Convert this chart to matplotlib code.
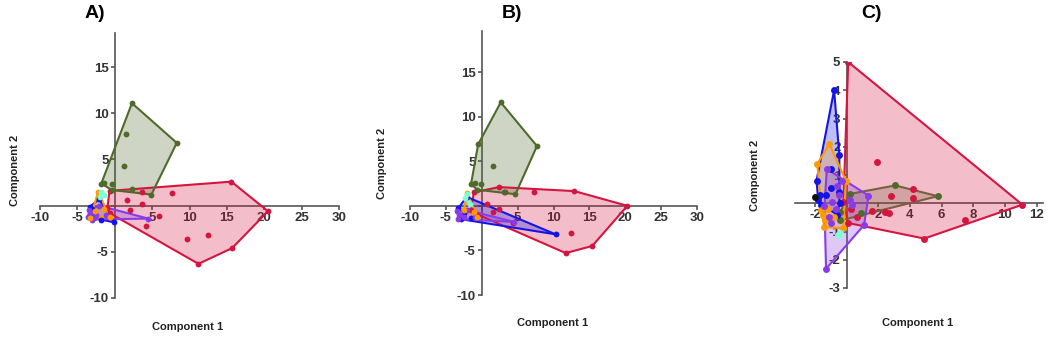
import numpy as np
import matplotlib
matplotlib.use('Agg')
import matplotlib.pyplot as plt

plt.rcParams['font.family'] = ['Liberation Sans', 'DejaVu Sans']
plt.rcParams['font.weight'] = 'bold'

# colours of the groups
RED = '#d4153f'
GREEN = '#4f6b2b'
BROWN = '#7a6040'
BLUE = '#1414e6'
PURPLE = '#8a3be8'
ORANGE = '#ff9a00'
CYAN = '#7fffd4'
BLACK = '#111111'

# Panel A scores (component 1, component 2)
a_red = [(-0.7, 1.6), (15.6, 2.6), (20.5, -0.6), (15.7, -4.6), (11.2, -6.3), (-0.7, -0.8),
         (1.6, 0.6), (3.7, 1.5), (7.6, 1.4), (3.7, 0.15), (2.0, -0.5), (5.9, -1.1),
         (4.2, -2.2), (9.6, -3.6), (12.5, -3.2), (-1.0, -0.3)]
a_green = [(2.3, 11.1), (8.3, 6.8), (4.9, 1.2), (-0.4, 1.7), (-1.8, 2.4), (1.5, 7.8),
           (1.3, 4.3), (-0.4, 2.4), (2.3, 1.8), (-1.4, 2.5)]
a_blue = [(-3.3, -0.1), (-2.1, 0.7), (-1.9, -1.5), (-0.1, -1.8), (-2.8, -0.8), (-3.0, -0.4)]
a_purple = [(-3.6, -1.2), (4.5, -1.4), (-2.1, 0.0), (-3.2, -0.8), (-2.8, -1.3), (-3.4, -0.5),
            (-2.5, -1.0), (-1.2, -1.0), (-3.0, -1.5)]
a_orange = [(-2.2, 1.5), (-3.3, -1.3), (-0.7, -1.2), (-2.6, -0.6), (-1.5, -0.4)]
a_cyan = [(-1.8, 1.5), (-2.0, 0.9), (-1.4, 1.2)]

# Panel B scores
b_red = [(-1.1, 1.5), (2.4, 2.1), (12.9, 1.65), (20.3, 0.0), (15.4, -4.5), (11.7, -5.3),
         (-1.5, -0.5), (3.2, 1.6), (7.3, 1.6), (0.8, 0.2), (1.5, -0.7), (2.4, -0.4),
         (4.3, -1.9), (12.4, -3.0), (-0.8, -0.9)]
b_green = [(2.65, 11.6), (7.7, 6.7), (4.7, 1.3), (-0.6, 1.8), (-1.5, 2.4), (-0.5, 6.9),
           (1.5, 4.5), (-0.1, 2.4), (3.1, 1.6), (-1.0, 2.6)]
b_blue = [(-2.1, 1.0), (10.3, -3.2), (-3.3, -0.3), (-2.9, -1.5), (-1.5, -1.4), (-2.5, -0.8)]
b_purple = [(-3.4, -0.6), (4.5, -1.8), (-3.3, -1.5), (-2.5, -1.2), (-2.0, -0.5), (-1.0, -1.3),
            (-3.0, -1.0)]
b_orange = [(-2.1, 1.4), (-0.6, -1.2), (-1.1, -0.7), (-2.5, -0.5)]
b_cyan = [(-2.4, 0.9), (-2.0, 1.3), (-1.6, 0.2)]

# Panel C scores
c_red = [(0.1, 5.0), (11.1, -0.05), (7.5, -0.6), (4.9, -1.25), (0.1, -0.7), (-0.2, 0.05),
         (1.9, 1.47), (2.8, 0.24), (4.2, 0.5), (4.2, 0.2), (1.6, -0.26), (2.4, -0.31),
         (2.7, -0.35), (0.65, -0.5), (0.3, -0.2)]
c_green = [(0.2, 0.33), (3.07, 0.63), (5.75, 0.25), (0.9, -0.35), (-0.4, -0.61), (-0.4, -0.3)]
c_blue = [(-0.79, 4.0), (-0.46, 1.7), (-1.9, 0.8), (-1.8, 0.12), (-1.3, 0.3), (-1.0, 0.55),
          (-0.5, 0.4), (-1.0, 1.2), (-1.6, -0.05), (-0.6, -0.4), (-0.45, 0.0), (-1.7, 0.3)]
c_orange = [(-1.09, 2.1), (-1.85, 1.39), (-0.05, 0.8), (-0.2, -0.88), (-1.4, -0.85),
            (-1.6, -0.24), (-1.2, -0.2), (-1.36, -0.6), (-0.8, -0.5), (-1.5, -0.4)]
c_purple = [(-1.3, -2.32), (1.1, -0.77), (1.38, 0.27), (-1.25, 1.21), (-0.6, 0.6), (-0.5, 0.3),
            (-0.9, 0.05), (-0.7, -0.2), (-1.1, -0.5), (0.2, 0.1), (0.35, -0.05), (-0.3, 0.8),
            (-1.0, -0.7), (-1.4, -0.1)]
c_black = [(-1.99, 0.21)]
c_cyan = [(-0.52, -1.14), (-0.4, -1.05)]


def convex_hull(pts):
    pts = sorted(set(pts))
    if len(pts) < 3:
        return pts

    def cross(o, a, b):
        return (a[0] - o[0]) * (b[1] - o[1]) - (a[1] - o[1]) * (b[0] - o[0])

    lower, upper = [], []
    for p in pts:
        while len(lower) >= 2 and cross(lower[-2], lower[-1], p) <= 0:
            lower.pop()
        lower.append(p)
    for p in reversed(pts):
        while len(upper) >= 2 and cross(upper[-2], upper[-1], p) <= 0:
            upper.pop()
        upper.append(p)
    return lower[:-1] + upper[:-1]


def draw_group(ax, pts, color, ms=4.2, edge=None):
    edge = edge or color
    h = convex_hull(pts)
    if len(h) >= 3:
        hx = [p[0] for p in h] + [h[0][0]]
        hy = [p[1] for p in h] + [h[0][1]]
        ax.fill(hx, hy, color=edge, alpha=0.28, lw=0, zorder=3)
        ax.plot(hx, hy, color=edge, lw=1.5, zorder=4)
    elif len(h) == 2:
        ax.plot([p[0] for p in h], [p[1] for p in h], color=edge, lw=1.5, zorder=4)
    ax.plot([p[0] for p in pts], [p[1] for p in pts], 'o', color=color, ms=ms,
            mec='none', zorder=5)


def style_axes(ax, xlim, ylim, xticks, yticks):
    ax.set_xlim(*xlim)
    ax.set_ylim(*ylim)
    ax.spines['left'].set_position(('data', 0))
    ax.spines['bottom'].set_position(('data', 0))
    ax.spines['right'].set_visible(False)
    ax.spines['top'].set_visible(False)
    for s in ('left', 'bottom'):
        ax.spines[s].set_color('#555555')
        ax.spines[s].set_linewidth(1.2)
    ax.set_xticks(xticks)
    ax.set_yticks(yticks)
    ax.set_xticklabels(['' if v == 0 else str(v) for v in xticks])
    ax.set_yticklabels(['' if v == 0 else str(v) for v in yticks])
    ax.tick_params(direction='out', length=3, width=1.2, color='#555555',
                   labelsize=9.5, labelcolor='#333333', pad=1.5)
    for lab in ax.get_xticklabels() + ax.get_yticklabels():
        lab.set_fontweight('bold')
    ax.patch.set_visible(False)


W, H = 1052, 338
fig = plt.figure(figsize=(W / 100, H / 100), dpi=100)


def rect(x0, x1, y0, y1):
    return [x0 / W, 1 - y1 / H, (x1 - x0) / W, (y1 - y0) / H]


axA = fig.add_axes(rect(40, 339, 33, 298))
axB = fig.add_axes(rect(410, 697, 31, 295))
axC = fig.add_axes(rect(795, 1043, 62, 288))

for pts, col in [(a_red, RED), (a_green, GREEN), (a_blue, BLUE), (a_purple, PURPLE),
                 (a_orange, ORANGE), (a_cyan, CYAN)]:
    draw_group(axA, pts, col)
style_axes(axA, (-10, 30), (-10, 18.7), list(range(-10, 31, 5)), list(range(-10, 16, 5)))

for pts, col in [(b_red, RED), (b_green, GREEN), (b_blue, BLUE), (b_purple, PURPLE),
                 (b_orange, ORANGE), (b_cyan, CYAN)]:
    draw_group(axB, pts, col)
style_axes(axB, (-10, 30), (-10, 19.6), list(range(-10, 31, 5)), list(range(-10, 16, 5)))

for pts, col, edge in [(c_red, RED, None), (c_green, GREEN, BROWN), (c_blue, BLUE, None),
                       (c_orange, ORANGE, None), (c_purple, PURPLE, None),
                       (c_cyan, CYAN, None), (c_black, BLACK, None)]:
    draw_group(axC, pts, col, ms=5, edge=edge)
style_axes(axC, (-3.26, 12.4), (-3, 5), [-2, 0, 2, 4, 6, 8, 10, 12], [-3, -2, -1, 0, 1, 2, 3, 4, 5])

# panel titles and axis labels
for x, lab in [(95, 'A)'), (512, 'B)'), (872, 'C)')]:
    fig.text(x / W, 1 - 14 / H, lab, ha='center', va='center', fontsize=14, fontweight='bold')
for x, y in [(188, 327), (553, 323), (918, 323)]:
    fig.text(x / W, 1 - y / H, 'Component 1', ha='center', va='center', fontsize=8,
             fontweight='bold', color='#222222')
for x, y in [(15, 170), (382, 163), (755, 175)]:
    fig.text(x / W, 1 - y / H, 'Component 2', ha='center', va='center', fontsize=8,
             fontweight='bold', color='#222222', rotation=90)

fig.savefig('out.png', dpi=100)
